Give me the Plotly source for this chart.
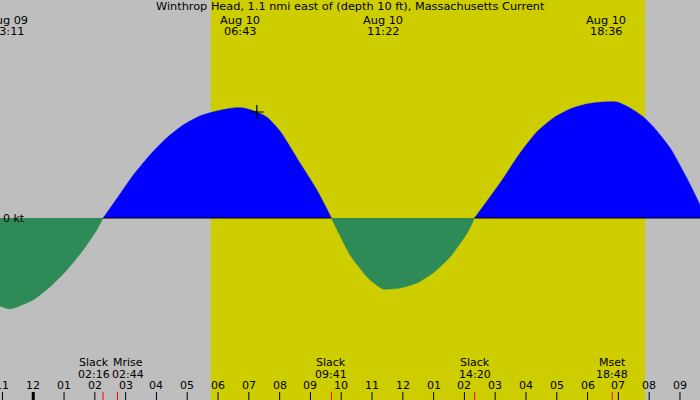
import plotly.graph_objects as go

# tidal current, knots (flood > 0, ebb < 0), hours from Aug 10 00:00
ebb1_hours = [-1.08, -0.76, -0.01, 0.54, 1.09, 1.62, 2.06, 2.27]
ebb1_knots = [-0.88, -0.91, -0.82, -0.69, -0.52, -0.32, -0.12, 0.0]

flood1_hours = [2.27, 2.82, 3.25, 3.79, 4.33, 4.87, 5.41, 5.96, 6.50, 6.82, 7.26, 7.58, 8.01, 8.66, 9.21, 9.68]
flood1_knots = [0.0, 0.24, 0.43, 0.63, 0.80, 0.93, 1.02, 1.07, 1.10, 1.10, 1.06, 1.01, 0.87, 0.55, 0.28, 0.0]

ebb2_hours = [9.68, 10.29, 10.84, 11.10, 11.36, 11.91, 12.46, 12.98, 13.53, 14.09, 14.33]
ebb2_knots = [0.0, -0.37, -0.59, -0.66, -0.71, -0.70, -0.65, -0.55, -0.39, -0.15, 0.0]

flood2_hours = [14.33, 15.16, 15.81, 16.35, 16.89, 17.43, 17.97, 18.51, 18.95, 19.38, 19.81, 20.14, 20.68, 21.22, 21.65, 21.80]
flood2_knots = [0.0, 0.35, 0.65, 0.86, 1.00, 1.09, 1.14, 1.16, 1.16, 1.10, 1.01, 0.91, 0.70, 0.40, 0.13, 0.0]

# max current labels (top)
max_days = ["Aug 09", "Aug 10", "Aug 10", "Aug 10"]
max_times = ["23:11", "06:43", "11:22", "18:36"]

# events (bottom)
event_names = ["Slack", "Mrise", "Slack", "Slack", "Mset", "Slack"]
event_times = ["02:16", "02:44", "09:41", "14:20", "18:48", "21:47"]

# hour ticks
tick_hours = list(range(-1, 22))
tick_labels = ["11", "12", "01", "02", "03", "04", "05", "06", "07", "08", "09", "10", "11",
               "12", "01", "02", "03", "04", "05", "06", "07", "08", "09"]

sunrise = "05:46"
sunset = "19:52"
now_hour, now_knots = 7.26, 1.06

title = "Winthrop Head, 1.1 nmi east of (depth 10 ft), Massachusetts Current"

GRAY = "#BEBEBE"
DAY = "#CDCD00"
FLOOD = "#0000FF"
EBB = "#2E8B57"
FONT = dict(family="DejaVu Sans", size=11.3, color="#000000")
SMALL = dict(family="DejaVu Sans", size=11, color="#000000")

# labels that sit too close together get nudged apart (pixels)
label_nudge = {0: -9, 1: 11}


def to_hours(t, day="Aug 10"):
    hh, mm = t.split(":")
    h = int(hh) + int(mm) / 60
    if day == "Aug 09":
        h -= 24
    return h


def py(pixels):
    # pixel row -> paper y
    return 1 - pixels / 400


fig = go.Figure()

for hrs, kts, color in [(ebb1_hours, ebb1_knots, EBB), (flood1_hours, flood1_knots, FLOOD),
                        (ebb2_hours, ebb2_knots, EBB), (flood2_hours, flood2_knots, FLOOD)]:
    fig.add_trace(go.Scatter(x=hrs, y=kts, mode="lines", fill="tozeroy", fillcolor=color,
                             line=dict(color=color, width=0.5, shape="spline", smoothing=0.6),
                             hoverinfo="skip", showlegend=False))
    if color == FLOOD:
        fig.add_trace(go.Scatter(x=[hrs[0], hrs[-1]], y=[0, 0], mode="lines",
                                 line=dict(color="black", width=1), hoverinfo="skip", showlegend=False))

fig.add_trace(go.Scatter(x=[now_hour], y=[now_knots], mode="markers",
                         marker=dict(symbol="cross-thin", size=10, line=dict(color="black", width=1.2)),
                         hoverinfo="skip", showlegend=False))

shapes = [dict(type="rect", xref="x", yref="paper", x0=to_hours(sunrise), x1=to_hours(sunset),
               y0=0, y1=1, fillcolor=DAY, line=dict(width=0), layer="below")]

annotations = [dict(text=title, xref="paper", yref="paper", x=0.5, y=py(7), showarrow=False,
                    font=FONT, xanchor="center", yanchor="middle"),
               dict(text="0 kt", xref="paper", yref="paper", x=0.002, y=py(218), showarrow=False,
                    font=SMALL, xanchor="left", yanchor="middle")]

for d, t in zip(max_days, max_times):
    h = to_hours(t, d)
    annotations.append(dict(text=d, x=h, y=py(20), xref="x", yref="paper", showarrow=False,
                            font=FONT, yanchor="middle"))
    annotations.append(dict(text=t, x=h, y=py(31), xref="x", yref="paper", showarrow=False,
                            font=FONT, yanchor="middle"))

for i, (n, t) in enumerate(zip(event_names, event_times)):
    h = to_hours(t)
    dx = label_nudge.get(i, 0)
    annotations.append(dict(text=n, x=h, y=py(362), xref="x", yref="paper", showarrow=False,
                            font=SMALL, yanchor="middle", xshift=dx))
    annotations.append(dict(text=t, x=h, y=py(374), xref="x", yref="paper", showarrow=False,
                            font=SMALL, yanchor="middle", xshift=dx))
    shapes.append(dict(type="line", xref="x", yref="paper", x0=h, x1=h, y0=0, y1=0.02,
                       line=dict(color="red", width=1)))

for h, lab in zip(tick_hours, tick_labels):
    annotations.append(dict(text=lab, x=h, y=py(385), xref="x", yref="paper", showarrow=False,
                            font=SMALL, yanchor="middle"))
    shapes.append(dict(type="line", xref="x", yref="paper", x0=h, x1=h, y0=0, y1=0.02,
                       line=dict(color="black", width=3 if h == 0 else 1)))

fig.update_layout(
    width=700, height=400, margin=dict(l=0, r=0, t=0, b=0),
    paper_bgcolor=GRAY, plot_bgcolor=GRAY,
    xaxis=dict(range=[-1.08, 21.65], showgrid=False, zeroline=False, showticklabels=False, ticks=""),
    yaxis=dict(range=[-1.82, 2.18], showgrid=False, zeroline=False, showticklabels=False, ticks=""),
    shapes=shapes, annotations=annotations,
)

fig.write_html("out.html", config={"displayModeBar": False},
               post_script="document.body.style.margin='0';")
